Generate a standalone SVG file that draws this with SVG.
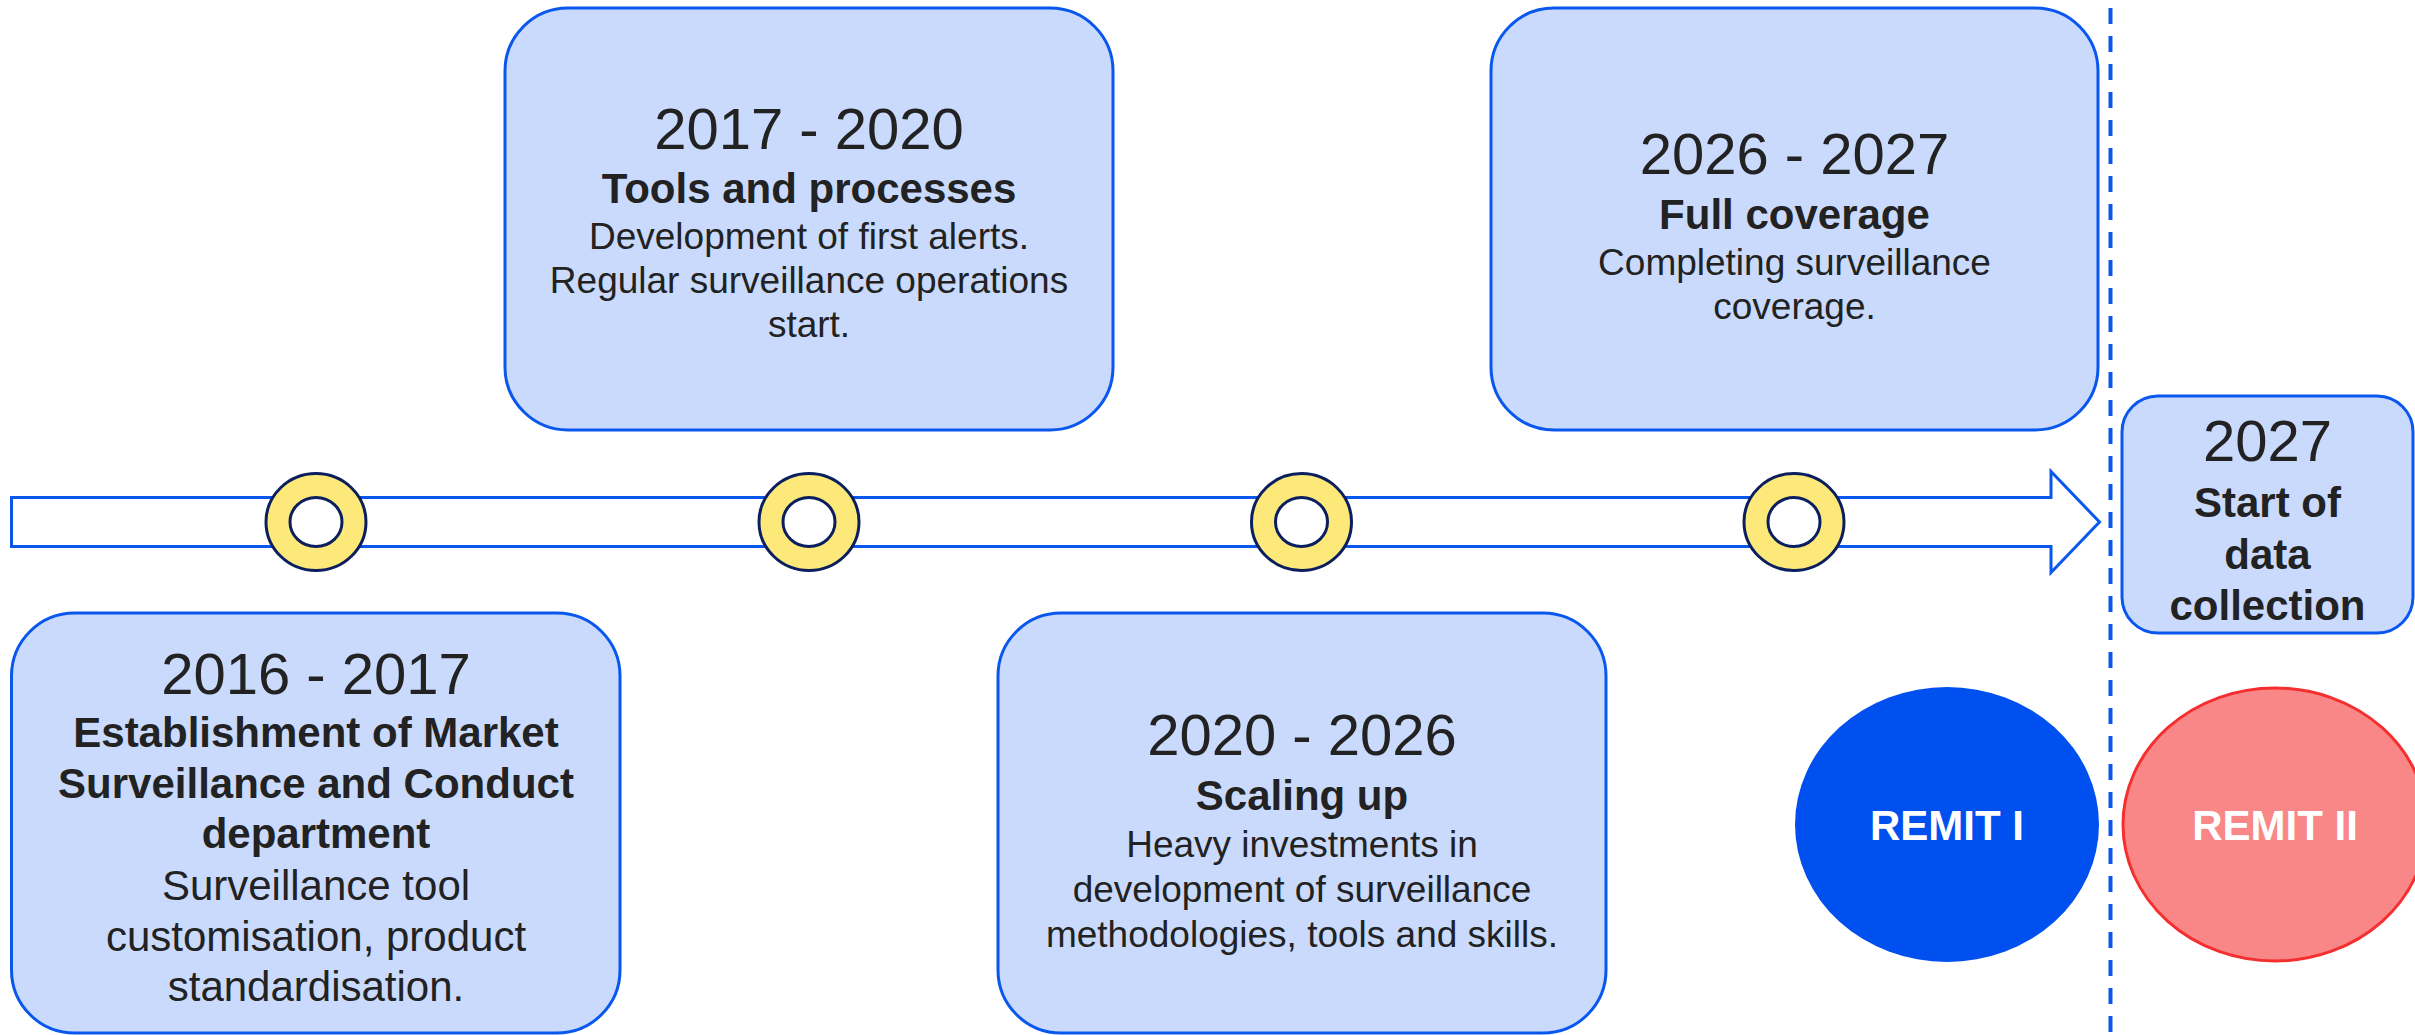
<svg xmlns="http://www.w3.org/2000/svg" width="2415" height="1035" viewBox="0 0 2415 1035">
<style>
.box{fill:#C9DAFD;stroke:#0A57EE;stroke-width:3}
.ring{fill:#FDE97A;stroke:#0B1F5E;stroke-width:3}
.hole{fill:#FFFFFF;stroke:#0B1F5E;stroke-width:3}
text{font-family:"Liberation Sans",Arial,Helvetica,sans-serif;fill:#222222;text-anchor:middle}
.yr{font-size:58px}
.bd{font-size:42px;font-weight:bold}
.n37{font-size:37px}
.n42{font-size:42px}
.wt{fill:#FFFFFF;font-size:42px;font-weight:bold}
</style>
<rect width="2415" height="1035" fill="#FFFFFF"/>

<g id="connectors">
<line x1="2110.5" y1="8" x2="2110.5" y2="1035" stroke="#0A57EE" stroke-width="4" stroke-dasharray="16 12"/>
</g>

<g id="timeline">
<path d="M11.5 497.5 H2051 V471.5 L2099.5 522 L2051 572.5 V546.5 H11.5 Z" fill="#FFFFFF" stroke="#0A57EE" stroke-width="3"/>
</g>

<g id="ring1"><ellipse class="ring" cx="316" cy="522" rx="50" ry="48.5"/><ellipse class="hole" cx="316" cy="522" rx="26" ry="24.5"/></g>
<g id="ring2"><ellipse class="ring" cx="809" cy="522" rx="50" ry="48.5"/><ellipse class="hole" cx="809" cy="522" rx="26" ry="24.5"/></g>
<g id="ring3"><ellipse class="ring" cx="1301.5" cy="522" rx="50" ry="48.5"/><ellipse class="hole" cx="1301.5" cy="522" rx="26" ry="24.5"/></g>
<g id="ring4"><ellipse class="ring" cx="1794" cy="522" rx="50" ry="48.5"/><ellipse class="hole" cx="1794" cy="522" rx="26" ry="24.5"/></g>

<g id="box-2017-2020">
<rect class="box" x="505" y="8" width="608" height="422" rx="63" ry="63"/>
<text class="yr" x="809" y="148.5">2017 - 2020</text>
<text class="bd" x="809" y="203">Tools and processes</text>
<text class="n37" x="809" y="249">Development of first alerts.</text>
<text class="n37" x="809" y="293">Regular surveillance operations</text>
<text class="n37" x="809" y="337">start.</text>
</g>

<g id="box-2026-2027">
<rect class="box" x="1491" y="8" width="607" height="422" rx="63" ry="63"/>
<text class="yr" x="1794.5" y="174">2026 - 2027</text>
<text class="bd" x="1794.5" y="229">Full coverage</text>
<text class="n37" x="1794.5" y="275">Completing surveillance</text>
<text class="n37" x="1794.5" y="318.5">coverage.</text>
</g>

<g id="box-2027">
<rect class="box" x="2122" y="396" width="291" height="237" rx="36" ry="36"/>
<text class="yr" x="2267.5" y="461">2027</text>
<text class="bd" x="2267.5" y="517">Start of</text>
<text class="bd" x="2267.5" y="568.5">data</text>
<text class="bd" x="2267.5" y="620">collection</text>
</g>

<g id="box-2016-2017">
<rect class="box" x="11.5" y="613" width="608.5" height="420" rx="63" ry="63"/>
<text class="yr" x="316" y="694">2016 - 2017</text>
<text class="bd" x="316" y="747">Establishment of Market</text>
<text class="bd" x="316" y="797.5">Surveillance and Conduct</text>
<text class="bd" x="316" y="848">department</text>
<text class="n42" x="316" y="900">Surveillance tool</text>
<text class="n42" x="316" y="950.5">customisation, product</text>
<text class="n42" x="316" y="1001">standardisation.</text>
</g>

<g id="box-2020-2026">
<rect class="box" x="998" y="613" width="608" height="420" rx="63" ry="63"/>
<text class="yr" x="1302" y="755">2020 - 2026</text>
<text class="bd" x="1302" y="810">Scaling up</text>
<text class="n37" x="1302" y="856.5">Heavy investments in</text>
<text class="n37" x="1302" y="901.5">development of surveillance</text>
<text class="n37" x="1302" y="946.5">methodologies, tools and skills.</text>
</g>

<g id="remit-1">
<ellipse cx="1947" cy="824.5" rx="152" ry="137.5" fill="#0050EF"/>
<text class="wt" x="1947" y="840">REMIT I</text>
</g>

<g id="remit-2">
<ellipse cx="2275" cy="824.5" rx="152" ry="136.5" fill="#F98787" stroke="#F52F2F" stroke-width="3"/>
<text class="wt" x="2275" y="840">REMIT II</text>
</g>
</svg>
